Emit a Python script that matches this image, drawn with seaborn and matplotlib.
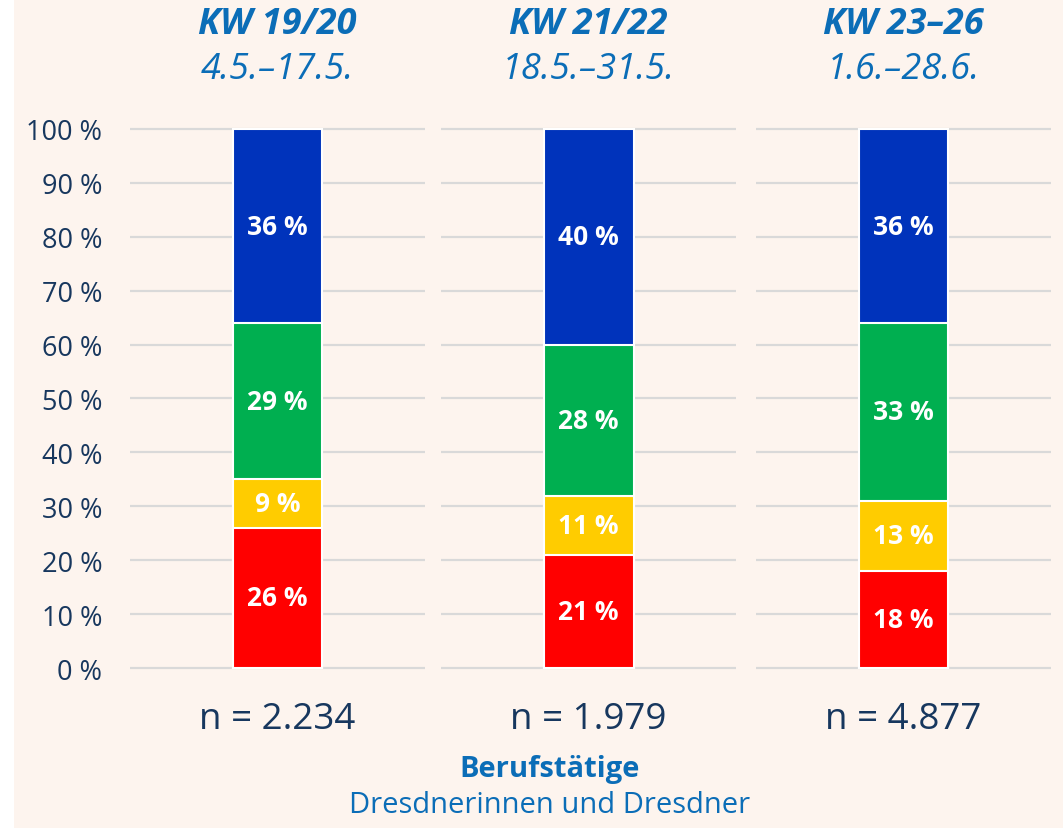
import numpy as np
import pandas as pd
import matplotlib.pyplot as plt
from matplotlib.patches import Rectangle
import seaborn as sns

# Data
weeks = ["KW 19/20", "KW 21/22", "KW 23–26"]
periods = ["4.5.–17.5.", "18.5.–31.5.", "1.6.–28.6."]
n_labels = ["n = 2.234", "n = 1.979", "n = 4.877"]
segments = ["rot", "gelb", "grün", "blau"]
rot = [26, 21, 18]
gelb = [9, 11, 13]
gruen = [29, 28, 33]
blau = [36, 40, 36]
yticks = [0, 10, 20, 30, 40, 50, 60, 70, 80, 90, 100]

seg_colors = ["#FF0000", "#FFCC00", "#00AF50", "#0033BB"]
bg = "#FDF4EE"
navy = "#17375E"
head_blue = "#0B6DB7"

sns.set_style("white")
plt.rcParams["font.family"] = ["Open Sans", "DejaVu Sans"]

fig = plt.figure(figsize=(10.63, 8.29), dpi=100)
fig.patch.set_facecolor("white")
fig.patches.append(Rectangle((14 / 1063, 0), 1, 1, transform=fig.transFigure,
                             facecolor=bg, edgecolor="none", zorder=-10))

lefts = [0.1223, 0.4149, 0.7112]
width = 0.2775
bottom, height = 0.1865, 0.6632

for i, week in enumerate(weeks):
    ax = fig.add_axes([lefts[i], bottom, width, height])
    ax.set_facecolor("none")
    df = pd.DataFrame({"segment": segments,
                       "value": [rot[i], gelb[i], gruen[i], blau[i]]})
    df["cum"] = df["value"].cumsum()
    # overlapping cumulative bars -> stacked look, largest first
    for j in reversed(range(len(df))):
        sns.barplot(x=[week], y=[df["cum"].iloc[j]], color=seg_colors[j],
                    width=0.305, edgecolor="white", linewidth=1.5,
                    saturation=1, ax=ax, zorder=3)
        ax.text(0, df["cum"].iloc[j] - df["value"].iloc[j] / 2,
                f"{df['value'].iloc[j]} %", ha="center", va="center",
                color="white", fontsize=19, fontweight="bold", zorder=4)
    ax.set_xlim(-0.5, 0.5)
    ax.set_ylim(-1, 101)
    ax.set_yticks(yticks)
    ax.yaxis.grid(True, color="#D9D9D9", linewidth=1.6, zorder=0)
    ax.set_axisbelow(True)
    ax.set_xticks([])
    ax.set_xlabel("")
    ax.set_ylabel("")
    sns.despine(ax=ax, left=True, bottom=True)
    if i == 0:
        ax.set_yticklabels([f"{t} %" for t in yticks], color=navy, fontsize=19.5)
        ax.tick_params(axis="y", length=0, pad=20)
    else:
        ax.set_yticklabels([])
        ax.tick_params(axis="y", length=0)

    cx = lefts[i] + width / 2
    fig.text(cx, 1 - 25 / 829, week, ha="center", va="center", color=head_blue,
             fontsize=26, fontweight="bold", fontstyle="italic")
    fig.text(cx, 1 - 70 / 829, periods[i], ha="center", va="center",
             color=head_blue, fontsize=26, fontstyle="italic")
    fig.text(cx, 1 - 720 / 829, n_labels[i], ha="center", va="center",
             color=navy, fontsize=26.5)

fig.text(550 / 1063, 1 - 770 / 829, "Berufstätige", ha="center", va="center",
         color=head_blue, fontsize=21, fontweight="bold")
fig.text(550 / 1063, 1 - 806 / 829, "Dresdnerinnen und Dresdner", ha="center",
         va="center", color=head_blue, fontsize=21)

plt.savefig("out.png", dpi=100, facecolor=fig.get_facecolor())
